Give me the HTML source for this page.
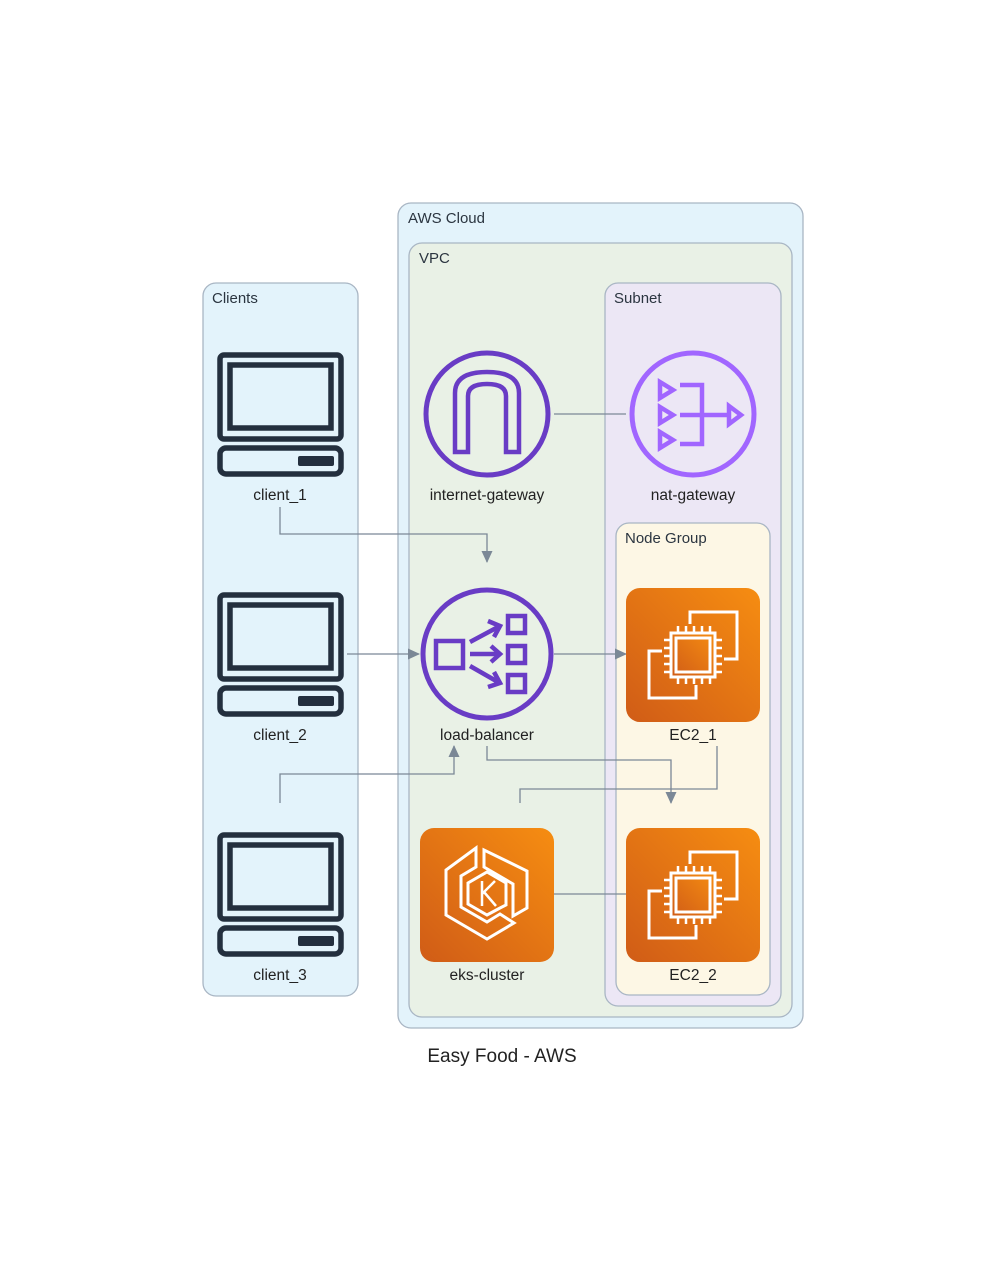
<!DOCTYPE html>
<html><head><meta charset="utf-8"><style>
html,body{margin:0;padding:0;background:#fff;}
svg{display:block;font-family:"Liberation Sans","DejaVu Sans",sans-serif;}
.g{font-size:15px;fill:#2b3540;}
.l{font-size:15.5px;fill:#222;text-anchor:middle;}
.e{stroke:#7b8896;stroke-width:1.3;fill:none;}
</style></head><body>
<svg width="1006" height="1265" viewBox="0 0 1006 1265">
<defs>
<marker id="a" markerWidth="12" markerHeight="12" refX="11" refY="6" orient="auto" markerUnits="userSpaceOnUse">
<path d="M0,0.5 L12,6 L0,11.5 z" fill="#7b8896"/></marker>
<linearGradient id="og" x1="0" y1="1" x2="1" y2="0">
<stop offset="0" stop-color="#d05c17"/><stop offset="1" stop-color="#f68d11"/></linearGradient>
<g id="pc" fill="none" stroke="#232f3e" stroke-width="5.5">
<rect x="220" y="355" width="121" height="84" rx="4"/>
<rect x="230" y="365" width="101" height="63"/>
<rect x="220" y="448" width="121" height="26" rx="6"/>
<rect x="298" y="456" width="36" height="10" rx="2" fill="#232f3e" stroke="none"/>
</g>
<g id="ec2" fill="none" stroke="#fff" stroke-width="3">
<rect x="0" y="0" width="134" height="134" rx="14" fill="url(#og)" stroke="none"/>
<path d="M64,36 V24 H111 V71 H98"/>
<path d="M70,97 V110 H23 V63 H36"/>
<rect x="45" y="45" width="44" height="44" fill="url(#og)"/>
<rect x="50" y="50" width="34" height="34"/>
<path d="M52,45 V38 M60,45 V38 M68,45 V38 M76,45 V38 M84,45 V38 M52,89 V96 M60,89 V96 M68,89 V96 M76,89 V96 M84,89 V96 M45,52 H38 M45,60 H38 M45,68 H38 M45,76 H38 M45,84 H38 M89,52 H96 M89,60 H96 M89,68 H96 M89,76 H96 M89,84 H96" stroke-width="2.5"/>
</g>
</defs>

<rect x="203" y="283" width="155" height="713" rx="13" fill="#e3f3fb" stroke="#a9b6c4" stroke-width="1.3"/>
<text class="g" x="212" y="303">Clients</text>
<rect x="398" y="203" width="405" height="825" rx="13" fill="#e3f3fb" stroke="#a9b6c4" stroke-width="1.3"/>
<text class="g" x="408" y="223">AWS Cloud</text>
<rect x="409" y="243" width="383" height="774" rx="13" fill="#e9f1e6" stroke="#a9b6c4" stroke-width="1.3"/>
<text class="g" x="419" y="263">VPC</text>
<rect x="605" y="283" width="176" height="723" rx="13" fill="#ece7f5" stroke="#a9b6c4" stroke-width="1.3"/>
<text class="g" x="614" y="303">Subnet</text>
<rect x="616" y="523" width="154" height="472" rx="13" fill="#fdf7e5" stroke="#a9b6c4" stroke-width="1.3"/>
<text class="g" x="625" y="543">Node Group</text>

<path class="e" d="M554,414 H626"/>
<path class="e" d="M280,507 V534 H487 V562" marker-end="url(#a)"/>
<path class="e" d="M347,654 H419" marker-end="url(#a)"/>
<path class="e" d="M280,803 V774 H454 V746" marker-end="url(#a)"/>
<path class="e" d="M554,654 H626" marker-end="url(#a)"/>
<path class="e" d="M487,746 V760 H671 V803" marker-end="url(#a)"/>
<path class="e" d="M717,746 V789 H520 V803"/>
<path class="e" d="M554,894 H626"/>

<use href="#pc"/>
<use href="#pc" y="240"/>
<use href="#pc" y="480"/>
<text class="l" x="280" y="500">client_1</text>
<text class="l" x="280" y="740">client_2</text>
<text class="l" x="280" y="980">client_3</text>

<circle cx="487" cy="414" r="61" fill="none" stroke="#693cc5" stroke-width="5"/>
<path d="M455,452 V393 Q455,372 487,372 Q519,372 519,393 V452 H506 V396 Q506,384 487,384 Q468,384 468,396 V452 Z" fill="none" stroke="#693cc5" stroke-width="4.5"/>
<text class="l" x="487" y="500">internet-gateway</text>

<circle cx="693" cy="414" r="61" fill="none" stroke="#a166ff" stroke-width="5"/>
<g fill="none" stroke="#a166ff" stroke-width="4.5">
<path d="M660,382 L673,390 L660,398 Z M660,407 L673,415 L660,423 Z M660,432 L673,440 L660,448 Z"/>
<path d="M680,385 H702 V444 H680 M680,415 H730"/>
<path d="M729,406 L741,415 L729,424 Z"/>
</g>
<text class="l" x="693" y="500">nat-gateway</text>

<circle cx="487" cy="654" r="64" fill="none" stroke="#693cc5" stroke-width="5"/>
<g fill="none" stroke="#693cc5" stroke-width="4.5">
<rect x="436" y="641" width="27" height="27"/>
<rect x="508" y="616" width="17" height="17"/>
<rect x="508" y="646" width="17" height="17"/>
<rect x="508" y="675" width="17" height="17"/>
<path d="M470,642 L498,627 M470,654 H498 M470,666 L498,682"/>
<path d="M488,621 L500,626 L494,637 M491,646 L500,654 L491,662 M494,672 L500,683 L488,687"/>
</g>
<text class="l" x="487" y="740">load-balancer</text>

<use href="#ec2" x="626" y="588"/>
<text class="l" x="693" y="740">EC2_1</text>
<use href="#ec2" x="626" y="828"/>
<text class="l" x="693" y="980">EC2_2</text>

<rect x="420" y="828" width="134" height="134" rx="14" fill="url(#og)"/>
<g fill="none" stroke="#fff" stroke-width="3">
<path d="M476,848 V867 L461,876 V907 L487,922 L500,914 L514,923 L487,939 L446,915 V870 Z"/>
<path d="M484,850 V867 L513,884 V916 L527,908 V871 Z"/>
<path d="M487,872 L506,883 V905 L500,908 L487,915 L468,904 V883 Z"/>
<path d="M482,881 V906 M482,894 L495,881 M484,892 L496,906" stroke-width="2.5"/>
</g>
<text class="l" x="487" y="980">eks-cluster</text>

<text x="502" y="1062" font-size="19" fill="#222" text-anchor="middle">Easy Food - AWS</text>
</svg>
</body></html>
